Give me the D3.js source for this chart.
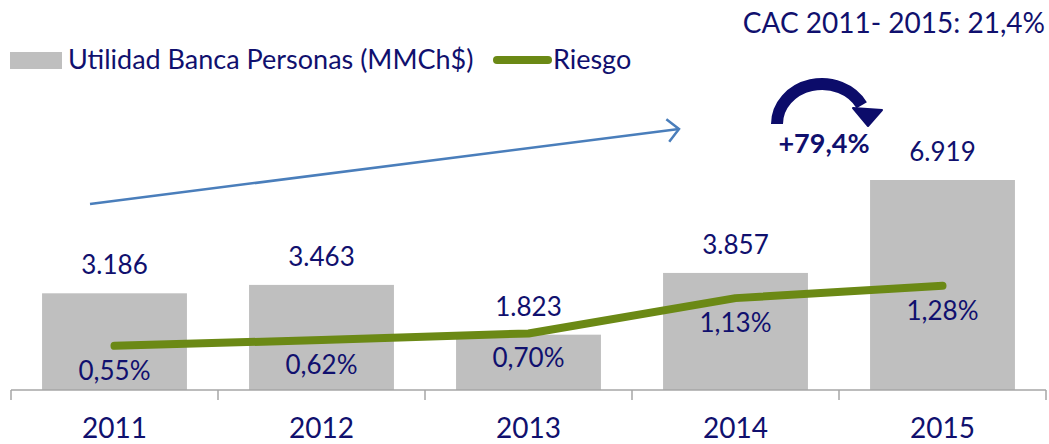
<!DOCTYPE html>
<html>
<head>
<meta charset="utf-8">
<script src="https://cdn.jsdelivr.net/npm/d3@7"></script>
<style>
  html, body { margin: 0; padding: 0; background: #ffffff; }
  svg { display: block; font-family: Lato, "Liberation Sans", sans-serif; }
</style>
</head>
<body>
<svg id="chart" width="1049" height="444"></svg>
<script>
// ---- data ----
const years = ["2011", "2012", "2013", "2014", "2015"];
const utilidad = [3186, 3463, 1823, 3857, 6919];          // MMCh$
const utilidadLabels = ["3.186", "3.463", "1.823", "3.857", "6.919"];
const riesgo = [0.55, 0.62, 0.70, 1.13, 1.28];             // %
const riesgoLabels = ["0,55%", "0,62%", "0,70%", "1,13%", "1,28%"];
const seriesNames = ["Utilidad Banca Personas (MMCh$)", "Riesgo"];
const titleText = "CAC 2011- 2015: 21,4%";
const growthText = "+79,4%";

// ---- styles ----
const textColor = "#10106e";
const barColor = "#bfbfbf";
const lineColor = "#6b8915";
const axisColor = "#a6a6a6";

const svg = d3.select("#chart");
const baseY = 390;

const x = d3.scaleBand().domain(years).range([11, 1046]).paddingInner(0.3).paddingOuter(0.15);
const yBar = d3.scaleLinear().domain([0, 12850]).range([baseY, 0]);
const yLine = d3.scaleLinear().domain([0, 4.757]).range([baseY + 1, 0]);
const cx = d => x(d) + x.bandwidth() / 2;

// bars
svg.append("g").selectAll("rect").data(years).join("rect")
  .attr("x", d => x(d))
  .attr("y", (d, i) => yBar(utilidad[i]))
  .attr("width", x.bandwidth())
  .attr("height", (d, i) => baseY - yBar(utilidad[i]))
  .attr("fill", barColor);

// bar labels
svg.append("g").selectAll("text").data(years).join("text")
  .attr("x", d => cx(d))
  .attr("y", (d, i) => yBar(utilidad[i]) - 19)
  .attr("text-anchor", "middle")
  .attr("font-size", 26)
  .attr("fill", textColor)
  .text((d, i) => utilidadLabels[i]);

// axis
const axisG = svg.append("g").attr("stroke", axisColor).attr("stroke-width", 1.5);
const step = x.step();
const x0 = x.range()[0];
axisG.append("line").attr("x1", x0).attr("x2", x.range()[1]).attr("y1", baseY).attr("y2", baseY);
axisG.selectAll("line.tick").data(d3.range(years.length + 1)).join("line")
  .attr("class", "tick")
  .attr("x1", i => x0 + i * step).attr("x2", i => x0 + i * step)
  .attr("y1", baseY).attr("y2", baseY + 10);

svg.append("g").selectAll("text").data(years).join("text")
  .attr("x", d => cx(d))
  .attr("y", 438)
  .attr("text-anchor", "middle")
  .attr("font-size", 28)
  .attr("fill", textColor)
  .text(d => d);

// line
const line = d3.line().x(d => cx(d)).y((d, i) => yLine(riesgo[i]));
svg.append("path")
  .datum(years)
  .attr("d", line)
  .attr("fill", "none")
  .attr("stroke", lineColor)
  .attr("stroke-width", 8)
  .attr("stroke-linecap", "round")
  .attr("stroke-linejoin", "round");

svg.append("g").selectAll("text").data(years).join("text")
  .attr("x", d => cx(d))
  .attr("y", (d, i) => yLine(riesgo[i]) + 34)
  .attr("text-anchor", "middle")
  .attr("font-size", 26)
  .attr("fill", textColor)
  .text((d, i) => riesgoLabels[i]);

// legend
const lg = svg.append("g");
lg.append("rect").attr("x", 10).attr("y", 52).attr("width", 52).attr("height", 17).attr("fill", barColor);
lg.append("text").attr("x", 68).attr("y", 69).attr("font-size", 27).attr("fill", textColor).text(seriesNames[0]);
lg.append("line").attr("x1", 497).attr("x2", 548).attr("y1", 60).attr("y2", 60)
  .attr("stroke", lineColor).attr("stroke-width", 8).attr("stroke-linecap", "round");
lg.append("text").attr("x", 553).attr("y", 69).attr("font-size", 27).attr("fill", textColor).text(seriesNames[1]);

// title
svg.append("text").attr("x", 1045).attr("y", 33).attr("text-anchor", "end")
  .attr("font-size", 28).attr("fill", textColor).text(titleText);

// trend arrow (blue)
const ax1 = 90, ay1 = 204, ax2 = 679, ay2 = 129;
const ang = Math.atan2(ay2 - ay1, ax2 - ax1);
const armLen = 16;
const blue = "#4a7ebb";
svg.append("line").attr("x1", ax1).attr("y1", ay1).attr("x2", ax2).attr("y2", ay2)
  .attr("stroke", blue).attr("stroke-width", 2.5);
svg.append("path")
  .attr("d", `M${ax2 + armLen * Math.cos(ang + Math.PI * 0.75)},${ay2 + armLen * Math.sin(ang + Math.PI * 0.75)} L${ax2},${ay2} L${ax2 + armLen * Math.cos(ang - Math.PI * 0.75)},${ay2 + armLen * Math.sin(ang - Math.PI * 0.75)}`)
  .attr("fill", "none").attr("stroke", blue).attr("stroke-width", 2.5);

// curved arrow (navy)
const navy = "#0c0c6a";
const ccx = 822, ccy = 124, rx = 45, ry = 40;
const tEnd = 28 * Math.PI / 180;
const ex = ccx + rx * Math.cos(tEnd), ey = ccy - ry * Math.sin(tEnd);
svg.append("path")
  .attr("d", `M${ccx - rx},${ccy} A${rx},${ry} 0 0 1 ${ex},${ey}`)
  .attr("fill", "none").attr("stroke", navy).attr("stroke-width", 12);
svg.append("path")
  .attr("d", "M853,108 L882,110 L868,126 Z")
  .attr("fill", navy).attr("stroke", navy).attr("stroke-width", 2).attr("stroke-linejoin", "round");

svg.append("text").attr("x", 824).attr("y", 153).attr("text-anchor", "middle")
  .attr("font-size", 27).attr("font-weight", "bold").attr("fill", textColor).text(growthText);
</script>
</body>
</html>
